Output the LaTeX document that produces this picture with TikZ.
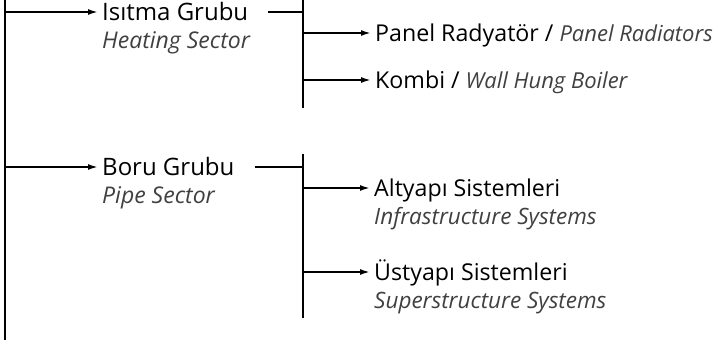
\documentclass[tikz,border=0pt]{standalone}
\usepackage{fontspec}
\setmainfont{Open Sans}
\usepackage{tikz}
\usetikzlibrary{calc}
\usetikzlibrary{positioning}
\usetikzlibrary{arrows.meta}

\tikzset{
  bus/.style={line width=2pt},
  branch/.style={line width=1.8pt,-{Latex[length=10pt,width=6pt]},shorten >=4pt},
  grp/.style={inner sep=0pt,anchor=west,font=\fontsize{24}{28}\selectfont,text height=17pt,text depth=0pt},
  grpen/.style={inner sep=0pt,font=\fontsize{23}{28}\selectfont\itshape,text=black!75},
  sub/.style={inner sep=0pt,anchor=west,font=\fontsize{23.2}{28}\selectfont,text height=16.5pt,text depth=0pt},
  suben/.style={inner sep=0pt,font=\fontsize{22.5}{27}\selectfont\itshape,text=black!75}
}
\newcommand{\engl}[1]{{\fontsize{22}{27}\selectfont\itshape\color{black!75}#1}}

\begin{document}
\begin{tikzpicture}[x=1pt,y=-1pt]
  \useasboundingbox (0,0) rectangle (718,343);
  %main bus
  \coordinate (lt) at (5,0);
  \coordinate (lb) at (5,340);
  \draw[bus] (lt)--(lb);
  %heating sector
  \node[grp] (heat) at (102,12) {Isıtma Grubu};
  \node[grpen,below=28pt of heat.base west,anchor=base west] (heatEn) {Heating Sector};
  \draw[branch] ($(lt)!(heat.west)!(lb)$)--(heat.west);
  \coordinate (ht) at (303,0);
  \coordinate (hb) at (303,108);
  \draw[bus] (ht)--(hb);
  \draw[bus] ([xshift=20pt]heat.east)--(heat.east -| ht);
  \node[sub] (panel) at (375,33) {Panel Radyatör / \engl{Panel Radiators}};
  \node[sub] (kombi) at (375,80) {Kombi / \engl{Wall Hung Boiler}};
  \draw[branch] ($(ht)!(panel.west)!(hb)$)--(panel.west);
  \draw[branch] ($(ht)!(kombi.west)!(hb)$)--(kombi.west);
  %pipe sector
  \node[grp] (pipe) at (102,167) {Boru Grubu};
  \node[grpen,below=28pt of pipe.base west,anchor=base west] (pipeEn) {Pipe Sector};
  \draw[branch] ($(lt)!(pipe.west)!(lb)$)--(pipe.west);
  \coordinate (pt) at (303,154);
  \coordinate (pb) at (303,318);
  \draw[bus] (pt)--(pb);
  \draw[bus] ([xshift=20pt]pipe.east)--(pipe.east -| pt);
  \node[sub] (alt) at (374,188) {Altyapı Sistemleri};
  \node[suben,below=28pt of alt.base west,anchor=base west] (altEn) {Infrastructure Systems};
  \node[sub] (ust) at (374,272) {Üstyapı Sistemleri};
  \node[suben,below=28pt of ust.base west,anchor=base west] (ustEn) {Superstructure Systems};
  \draw[branch] ($(pt)!(alt.west)!(pb)$)--(alt.west);
  \draw[branch] ($(pt)!(ust.west)!(pb)$)--(ust.west);
\end{tikzpicture}
\end{document}
